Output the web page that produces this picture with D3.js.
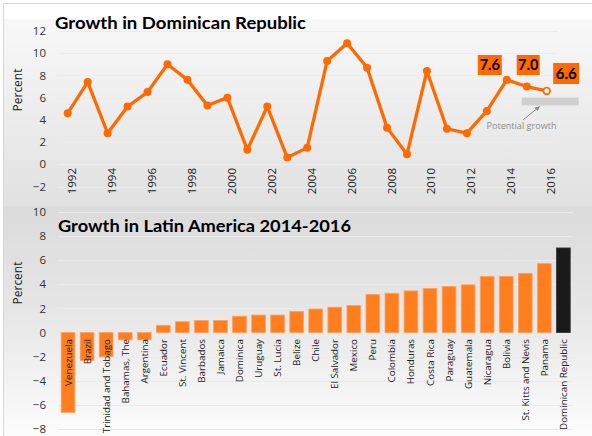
<!DOCTYPE html>
<html>
<head>
<meta charset="utf-8">
<script src="https://cdn.jsdelivr.net/npm/d3@7"></script>
<style>
  html, body { margin: 0; padding: 0; background: #fff; }
  svg { display: block; }
  text { font-family: "Open Sans", "Noto Sans", sans-serif; }
  .title, .badge { font-family: Lato, "Open Sans", sans-serif; font-weight: bold; }
</style>
</head>
<body>
<svg id="chart" width="592" height="436"></svg>
<script>
// ---- Dominican Republic annual GDP growth, percent ----
const years = d3.range(1992, 2017);
const drGrowth = [4.6, 7.4, 2.8, 5.2, 6.5, 9.0, 7.6, 5.3, 6.0, 1.3, 5.2, 0.6, 1.5,
                  9.3, 10.9, 8.7, 3.3, 0.9, 8.4, 3.2, 2.8, 4.8, 7.6, 7.0, 6.6];
const labelledYears = [2014, 2015, 2016];
const potentialGrowth = [5.3, 6.0];          // band, percent
const potentialSpan = [2014.75, 2017.6];      // band, years
const topTicks = [-2, 0, 2, 4, 6, 8, 10, 12];
const yearTicks = d3.range(1992, 2017, 2);

// ---- Latin America average growth 2014-2016, percent ----
const countries = ["Venezuela", "Brazil", "Trinidad and Tobago", "Bahamas, The", "Argentina",
  "Ecuador", "St. Vincent", "Barbados", "Jamaica", "Dominica", "Uruguay", "St. Lucia",
  "Belize", "Chile", "El Salvador", "Mexico", "Peru", "Colombia", "Honduras", "Costa Rica",
  "Paraguay", "Guatemala", "Nicaragua", "Bolivia", "St. Kitts and Nevis", "Panama",
  "Dominican Republic"];
const laGrowth = [-6.6, -2.3, -2.0, -0.6, -0.6, 0.6, 0.9, 1.0, 1.0, 1.35, 1.45, 1.45,
  1.75, 1.95, 2.1, 2.25, 3.15, 3.25, 3.45, 3.65, 3.8, 3.95, 4.65, 4.65, 4.9, 5.7, 7.0];
const highlight = "Dominican Republic";
const bottomTicks = [-8, -6, -4, -2, 0, 2, 4, 6, 8, 10];

const svg = d3.select("#chart");
const W = 592, H = 436;

// ---- background ----
const defs = svg.append("defs");
const g1 = defs.append("linearGradient").attr("id", "bgTop").attr("x1", 0).attr("y1", 0).attr("x2", 0).attr("y2", 1);
g1.append("stop").attr("offset", "0%").attr("stop-color", "#f8f8f8");
g1.append("stop").attr("offset", "100%").attr("stop-color", "#e1e1e1");
const g2 = defs.append("linearGradient").attr("id", "bgBot").attr("x1", 0).attr("y1", 0).attr("x2", 0).attr("y2", 1);
g2.append("stop").attr("offset", "0%").attr("stop-color", "#dbdbdb");
g2.append("stop").attr("offset", "45%").attr("stop-color", "#e6e6e6");
g2.append("stop").attr("offset", "100%").attr("stop-color", "#fcfcfc");
defs.append("marker").attr("id", "arrow").attr("viewBox", "0 0 10 10")
  .attr("refX", 9).attr("refY", 5).attr("markerWidth", 5).attr("markerHeight", 5)
  .attr("orient", "auto")
  .append("path").attr("d", "M0,0 L10,5 L0,10 z").attr("fill", "#8a8a8a");

svg.append("rect").attr("width", W).attr("height", H).attr("fill", "#fff");
svg.append("rect").attr("x", 4).attr("y", 19).attr("width", W - 4).attr("height", 187).attr("fill", "url(#bgTop)");
svg.append("rect").attr("x", 4).attr("y", 206).attr("width", W - 4).attr("height", H - 206).attr("fill", "url(#bgBot)");
svg.append("path").attr("d", `M3.5,${H} V3.5 H${W}`).attr("fill", "none").attr("stroke", "#d6d6d6");

// ================= top chart: line =================
const xTop = d3.scaleLinear().domain([1992, 2016]).range([67.7, 546.7]);
const yTop = d3.scaleLinear().domain([-2, 12]).range([186.5, 31]);
const gTop = svg.append("g");

gTop.append("g").selectAll("line").data(topTicks).join("line")
  .attr("x1", 58).attr("x2", 558)
  .attr("y1", d => Math.round(yTop(d)) + 0.5).attr("y2", d => Math.round(yTop(d)) + 0.5)
  .attr("stroke", "#ececec").attr("stroke-width", 1);

const yAxisTop = gTop.append("g").attr("transform", "translate(46,0)")
  .call(d3.axisLeft(yTop).tickValues(topTicks).tickSize(0).tickPadding(0));
yAxisTop.select(".domain").remove();
yAxisTop.selectAll("text").attr("font-size", 11.5).attr("fill", "#333")
  .attr("font-family", "'Open Sans', sans-serif");

const xAxisTop = gTop.append("g").attr("transform", "translate(0,168)")
  .call(d3.axisBottom(xTop).tickValues(yearTicks).tickFormat(d3.format("d")).tickSize(0));
xAxisTop.select(".domain").remove();
xAxisTop.selectAll("text")
  .attr("font-size", 11.5).attr("fill", "#222")
  .attr("font-family", "'Open Sans', sans-serif")
  .attr("text-anchor", "end").attr("x", 0).attr("y", 0).attr("dy", "0.35em")
  .attr("transform", "translate(4,0) rotate(-90)");

gTop.append("text").attr("transform", "translate(22,90) rotate(-90)")
  .attr("text-anchor", "middle").attr("font-size", 12).attr("fill", "#222").text("Percent");

gTop.append("text").attr("class", "title").attr("x", 55).attr("y", 28.5)
  .attr("font-size", 17).attr("fill", "#000")
  .attr("textLength", 251).attr("lengthAdjust", "spacingAndGlyphs")
  .text("Growth in Dominican Republic");

// potential growth band and annotation
gTop.append("rect")
  .attr("x", xTop(potentialSpan[0])).attr("width", xTop(potentialSpan[1]) - xTop(potentialSpan[0]))
  .attr("y", yTop(potentialGrowth[1])).attr("height", yTop(potentialGrowth[0]) - yTop(potentialGrowth[1]))
  .attr("fill", "#cfcfcf");
gTop.append("line").attr("x1", 523).attr("y1", 120).attr("x2", 539.5).attr("y2", 106.5)
  .attr("stroke", "#8a8a8a").attr("stroke-width", 1).attr("marker-end", "url(#arrow)");
gTop.append("text").attr("x", 486.5).attr("y", 129).attr("font-size", 9.5).attr("fill", "#8c8c8c")
  .attr("textLength", 70).attr("lengthAdjust", "spacingAndGlyphs")
  .text("Potential growth");

const series = years.map((y, i) => ({ year: y, v: drGrowth[i] }));
gTop.append("path").datum(series)
  .attr("fill", "none").attr("stroke", "#ff6a00").attr("stroke-width", 3.3)
  .attr("stroke-linejoin", "round")
  .attr("d", d3.line().x(d => xTop(d.year)).y(d => yTop(d.v)));
gTop.append("g").selectAll("circle").data(series).join("circle")
  .attr("cx", d => xTop(d.year)).attr("cy", d => yTop(d.v))
  .attr("r", d => d.year === 2016 ? 3.3 : 4)
  .attr("fill", d => d.year === 2016 ? "#fff" : "#ff6a00")
  .attr("stroke", "#ff6a00").attr("stroke-width", d => d.year === 2016 ? 1.8 : 0);

// value boxes for the last three years
const boxSpec = { 2014: { dx: -17, top: 55, w: 24, h: 20 },
                  2015: { dx: 1.5, top: 55, w: 23, h: 20 },
                  2016: { dx: 19.5, top: 63, w: 26, h: 21 } };
const lab = gTop.append("g").selectAll("g").data(series.filter(d => labelledYears.includes(d.year))).join("g")
  .attr("transform", d => `translate(${xTop(d.year) + boxSpec[d.year].dx},${boxSpec[d.year].top})`);
lab.append("rect").attr("x", d => -boxSpec[d.year].w / 2).attr("y", 0)
  .attr("width", d => boxSpec[d.year].w).attr("height", d => boxSpec[d.year].h).attr("fill", "#ff6a00");
lab.append("text").attr("class", "badge").attr("text-anchor", "middle").attr("y", d => boxSpec[d.year].h / 2 + 5)
  .attr("font-size", d => d.year === 2016 ? 15 : 14.5).attr("fill", "#000")
  .text(d => d3.format(".1f")(d.v));

// ================= bottom chart: bars =================
const xBot = d3.scaleBand().domain(countries).range([58.5, 572.9]).paddingInner(0.28).paddingOuter(0.14);
const yBot = d3.scaleLinear().domain([-8, 10]).range([429.3, 211.7]);
const gBot = svg.append("g");

gBot.append("g").selectAll("line").data(bottomTicks).join("line")
  .attr("x1", 58).attr("x2", 573)
  .attr("y1", d => Math.round(yBot(d)) + 0.5).attr("y2", d => Math.round(yBot(d)) + 0.5)
  .attr("stroke", "#eaeaea").attr("stroke-width", 1);

const yAxisBot = gBot.append("g").attr("transform", "translate(46,0)")
  .call(d3.axisLeft(yBot).tickValues(bottomTicks).tickSize(0).tickPadding(0));
yAxisBot.select(".domain").remove();
yAxisBot.selectAll("text").attr("font-size", 11.5).attr("fill", "#333")
  .attr("font-family", "'Open Sans', sans-serif");

gBot.append("text").attr("transform", "translate(22,283) rotate(-90)")
  .attr("text-anchor", "middle").attr("font-size", 12).attr("fill", "#222").text("Percent");

gBot.append("text").attr("class", "title").attr("x", 58).attr("y", 232)
  .attr("font-size", 17).attr("fill", "#000")
  .attr("textLength", 293).attr("lengthAdjust", "spacingAndGlyphs")
  .text("Growth in Latin America 2014-2016");

const bars = countries.map((c, i) => ({ c, v: laGrowth[i] }));
gBot.append("g").selectAll("rect").data(bars).join("rect")
  .attr("x", d => xBot(d.c)).attr("width", xBot.bandwidth())
  .attr("y", d => yBot(Math.max(0, d.v)))
  .attr("height", d => Math.abs(yBot(d.v) - yBot(0)))
  .attr("fill", d => d.c === highlight ? "#1a1a1a" : "#ff7f1e")
  .attr("stroke", d => d.c === highlight ? "#333" : "#ffa060").attr("stroke-width", 0.8);

gBot.append("g").selectAll("text").data(bars).join("text")
  .attr("transform", d => `translate(${xBot(d.c) + xBot.bandwidth() / 2 + 3.5},339) rotate(-90)`)
  .attr("text-anchor", "end").attr("font-size", 9.8).attr("fill", "#222")
  .text(d => d.c);
</script>
</body>
</html>
